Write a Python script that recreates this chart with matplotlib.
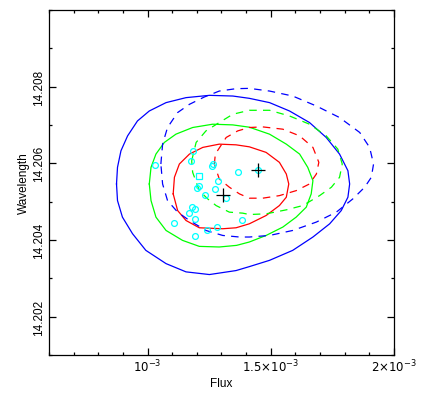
import numpy as np
import matplotlib
matplotlib.use("Agg")
import matplotlib.pyplot as plt

plt.rcParams['font.family'] = ['Liberation Sans', 'DejaVu Sans']

# contours: flux in units of 1e-3, wavelength offset from 14.2 in units of 1e-3
# solid contours (fit 1)
blue_x = [0.874, 0.878, 0.892, 0.919, 0.959, 1.007, 1.075, 1.156, 1.251, 1.346, 1.413,
          1.495, 1.576, 1.657, 1.725, 1.779, 1.813, 1.820, 1.813, 1.786, 1.739, 1.671,
          1.589, 1.495, 1.413, 1.359, 1.251, 1.156, 1.075, 0.993, 0.939, 0.898, 0.878]
blue_y = [5.462, 5.896, 6.327, 6.717, 7.106, 7.366, 7.584, 7.714, 7.774, 7.756, 7.696,
          7.584, 7.366, 7.065, 6.675, 6.242, 5.808, 5.462, 5.117, 4.769, 4.423, 4.078,
          3.730, 3.470, 3.306, 3.203, 3.099, 3.169, 3.384, 3.730, 4.164, 4.597, 5.029]

green_x = [1.007, 1.014, 1.034, 1.068, 1.115, 1.183, 1.264, 1.346, 1.413, 1.495, 1.563,
           1.617, 1.650, 1.671, 1.664, 1.644, 1.603, 1.549, 1.481, 1.413, 1.361, 1.291,
           1.210, 1.142, 1.075, 1.034, 1.014]
green_y = [5.462, 5.896, 6.242, 6.545, 6.761, 6.935, 7.021, 7.003, 6.943, 6.761, 6.501,
           6.242, 5.896, 5.548, 5.203, 4.857, 4.597, 4.338, 4.119, 3.948, 3.860, 3.818,
           3.834, 3.990, 4.249, 4.597, 5.029]

red_x = [1.104, 1.109, 1.129, 1.170, 1.224, 1.291, 1.359, 1.413, 1.481, 1.535, 1.563,
         1.573, 1.563, 1.535, 1.481, 1.413, 1.359, 1.305, 1.210, 1.156, 1.122]
red_y = [5.203, 5.636, 5.982, 6.242, 6.416, 6.501, 6.483, 6.431, 6.286, 6.026, 5.722,
         5.462, 5.117, 4.899, 4.639, 4.423, 4.319, 4.294, 4.319, 4.509, 4.769]

# dashed contours (fit 2)
blue2_x = [1.054, 1.061, 1.081, 1.122, 1.170, 1.230, 1.291, 1.359, 1.413, 1.495, 1.589,
           1.685, 1.779, 1.861, 1.901, 1.917, 1.908, 1.881, 1.833, 1.766, 1.685, 1.589,
           1.495, 1.413, 1.373, 1.305, 1.237, 1.170, 1.122, 1.081, 1.061]
blue2_y = [5.982, 6.501, 6.935, 7.325, 7.540, 7.730, 7.886, 7.948, 7.956, 7.886, 7.756,
           7.496, 7.195, 6.805, 6.416, 5.982, 5.636, 5.377, 5.073, 4.727, 4.468, 4.249,
           4.119, 4.078, 4.078, 4.119, 4.249, 4.509, 4.727, 5.029, 5.462]

green2_x = [1.179, 1.197, 1.237, 1.291, 1.346, 1.413, 1.495, 1.576, 1.657, 1.725, 1.772,
            1.790, 1.779, 1.746, 1.698, 1.630, 1.563, 1.481, 1.413, 1.386, 1.332, 1.278,
            1.244, 1.210, 1.183]
green2_y = [6.068, 6.545, 6.847, 7.065, 7.281, 7.384, 7.384, 7.236, 7.021, 6.717, 6.371,
            5.982, 5.636, 5.377, 5.158, 4.899, 4.787, 4.683, 4.665, 4.701, 4.727, 4.899,
            5.073, 5.288, 5.766]

red2_x = [1.271, 1.275, 1.319, 1.366, 1.413, 1.467, 1.549, 1.617, 1.671, 1.695, 1.685,
          1.657, 1.603, 1.535, 1.467, 1.413, 1.373, 1.332, 1.291]
red2_y = [5.982, 6.242, 6.675, 6.847, 6.935, 6.951, 6.891, 6.717, 6.416, 6.026, 5.722,
          5.462, 5.288, 5.158, 5.091, 5.091, 5.203, 5.377, 5.592]

# best fit positions
best_x = [1.305, 1.449]
best_y = [5.184, 5.826]

# cyan sample points
pts_x = [1.031, 1.186, 1.175, 1.267, 1.262, 1.369, 1.447, 1.210, 1.199, 1.274, 1.285,
         1.235, 1.319, 1.179, 1.191, 1.167, 1.191, 1.109, 1.382, 1.282, 1.241, 1.191]
pts_y = [5.964, 6.312, 6.068, 5.982, 5.922, 5.774, 5.834, 5.403, 5.351, 5.332, 5.532,
         5.184, 5.099, 4.857, 4.805, 4.701, 4.561, 4.442, 4.535, 4.338, 4.260, 4.104]
sq_x = [1.207]
sq_y = [5.678]


def flux(v):
    return np.array(v) * 1e-3


def wave(v):
    return 14.2 + np.array(v) * 1e-3


def closed(v):
    return np.append(v, v[0])


fig = plt.figure(figsize=(4.37, 4.02), dpi=100)
ax = fig.add_axes([0.1121, 0.1144, 0.7895, 0.8582])

solid = [(blue_x, blue_y, 'blue'), (green_x, green_y, '#00ff00'), (red_x, red_y, 'red')]
dashed = [(blue2_x, blue2_y, 'blue'), (green2_x, green2_y, '#00ff00'), (red2_x, red2_y, 'red')]

for xs, ys, c in solid:
    ax.plot(flux(closed(xs)), wave(closed(ys)), color=c, lw=0.9)
for xs, ys, c in dashed:
    ax.plot(flux(closed(xs)), wave(closed(ys)), color=c, lw=0.9, dashes=(6, 5))

ax.plot(flux(pts_x), wave(pts_y), 'o', ms=4.2, mfc='none', mec='cyan', mew=0.9)
ax.plot(flux(sq_x), wave(sq_y), 's', ms=3.8, mfc='none', mec='cyan', mew=0.9)
ax.plot(flux(best_x), wave(best_y), '+', ms=10, color='black', mew=0.9)

ax.set_xlim(0.0006, 0.002)
ax.set_ylim(14.201, 14.210)

ax.set_xticks([0.001, 0.0015, 0.002])
ax.set_xticklabels([r'$10^{-3}$', r'$1.5{\times}10^{-3}$', r'$2{\times}10^{-3}$'])
ax.set_xticks(np.arange(0.0006, 0.00201, 0.0001), minor=True)
ax.set_yticks([14.202, 14.204, 14.206, 14.208])
ax.set_yticklabels(['14.202', '14.204', '14.206', '14.208'], rotation=90, va='center')
ax.set_yticks(np.arange(14.201, 14.2101, 0.001), minor=True)

ax.tick_params(which='both', direction='in', top=True, right=True, labelsize=8.5,
               width=0.9, color='black')
ax.tick_params(which='major', length=5)
ax.tick_params(axis='x', which='major', pad=2)
ax.tick_params(axis='y', which='major', pad=3)
ax.tick_params(which='minor', length=2.5)
for s in ax.spines.values():
    s.set_linewidth(0.9)

ax.set_xlabel('Flux', fontsize=8.5, labelpad=2)
ax.set_ylabel('Wavelength', fontsize=8.5, labelpad=2)

fig.savefig('out.png', dpi=100)
